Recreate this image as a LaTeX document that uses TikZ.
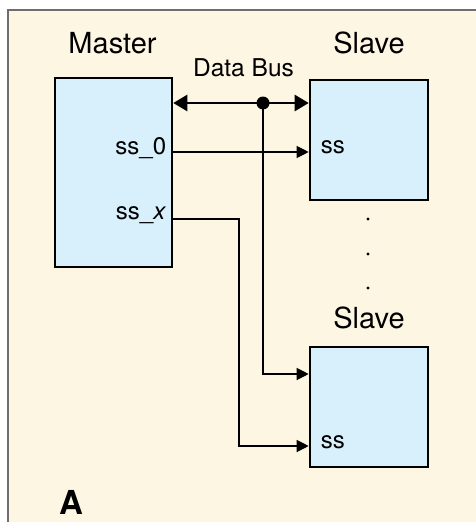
\documentclass[tikz,border=0pt]{standalone}
\usepackage{fontspec}
\setmainfont{TeX Gyre Heros}
\usetikzlibrary{arrows.meta,positioning,calc}
\definecolor{spipaper}{RGB}{252,246,226}
\definecolor{spiblue}{RGB}{216,239,252}
\definecolor{spiframe}{RGB}{110,110,110}

\begin{document}
\begin{tikzpicture}[x=1pt,y=-1pt,
      blk/.style={draw,line width=2.6pt,fill=spiblue,inner sep=0pt},
      big/.style={font=\fontsize{29}{32}\selectfont,anchor=base},
      lbl/.style={font=\fontsize{24}{27}\selectfont,inner sep=0pt},
      sig/.style={line width=1.2pt,-{Triangle[length=12pt,width=12pt]}},
      bus/.style={line width=2.6pt,{Triangle[length=14pt,width=16pt]}-{Triangle[length=14pt,width=16pt]}}
    ]
    \useasboundingbox (0,0) rectangle (475,522);
    \fill[spipaper] (8,10) rectangle (476,523);
    \draw[spiframe,line width=2pt] (8,523) -- (8,10) -- (476,10);

    \node[blk,minimum width=117pt,minimum height=189pt] (master) at (113.5,172.5) {};
    \node[blk,minimum width=118pt,minimum height=120pt] (slave1) at (369,140) {};
    \node[blk,minimum width=118pt,minimum height=120pt] (slave2) at (369,407) {};

    \node[big] (mastertxt) at (112.5,53) {Master};
    \node[big] (slave1txt) at (369,53) {Slave};
    \node[big] (slave2txt) at (369,328) {Slave};
    \node[big,font=\fontsize{24.5}{27}\selectfont] (bustxt) at (243.5,76) {Data Bus};
    \node[anchor=base west,inner sep=0pt,font=\fontsize{33}{36}\selectfont\bfseries] (tag) at (59,514) {A};

    \coordinate (busrow) at (0,103);
    \coordinate (row0) at (0,152);
    \coordinate (rowx) at (0,219);
    \coordinate (tap) at (263,103);
    \coordinate (xturn) at (239,446);

    \node[lbl,anchor=east] (ss0) at ([xshift=-7pt]master.east |- 0,148) {ss\_0};
    \node[lbl,anchor=east] (ssx) at ([xshift=-7pt]master.east |- 0,215) {ss\_\textit{x}};
    \node[lbl,anchor=west] (ssa) at ([xshift=12pt]slave1.west |- 0,147) {ss};
    \node[lbl,anchor=west] (ssb) at ([xshift=12pt]slave2.west |- 0,442) {ss};

    \draw[bus] (master.east |- busrow) -- (slave1.west |- busrow);
    \fill (tap) circle (6.5pt);
    \draw[sig] (tap) |- (slave2.west |- 0,374);
    \draw[sig] (master.east |- row0) -- (slave1.west |- row0);
    \draw[sig] (master.east |- rowx) -| (xturn) -- (xturn -| slave2.west);

    \foreach \yy in {219,254,288}
      \fill (368,\yy) circle (1.7pt);
  \end{tikzpicture}
\end{document}
